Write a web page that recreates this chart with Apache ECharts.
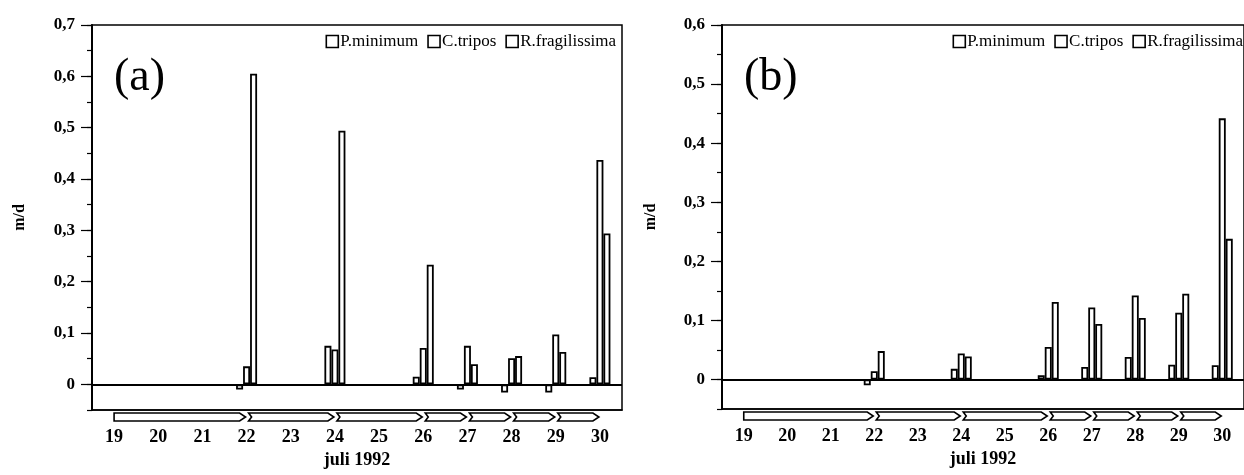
<!DOCTYPE html>
<html><head><meta charset="utf-8">
<script src="https://cdn.jsdelivr.net/npm/echarts@6/dist/echarts.min.js"></script>
<style>html,body{margin:0;padding:0;background:#fff}#c{width:1244px;height:475px}</style>
</head><body><div id="c"></div>
<script>
const categories = ['19','20','21','22','23','24','25','26','27','28','29','30'];
const seriesNames = ['P.minimum','C.tripos','R.fragilissima'];
// panel (a)
const aPmin = [null,null,null,-0.01,null,0.075,null,0.015,-0.01,-0.016,-0.016,0.014];
const aCtri = [null,null,null,0.035,null,0.068,null,0.071,0.075,0.051,0.097,0.437];
const aRfra = [null,null,null,0.605,null,0.494,null,0.233,0.039,0.055,0.063,0.294];
// panel (b)
const bPmin = [null,null,null,-0.01,null,0.018,null,0.007,0.021,0.038,0.025,0.024];
const bCtri = [null,null,null,0.014,null,0.044,null,0.055,0.122,0.142,0.113,0.442];
const bRfra = [null,null,null,0.048,null,0.039,null,0.131,0.094,0.104,0.145,0.238];
// y ticks
const yTicksA = [0,0.1,0.2,0.3,0.4,0.5,0.6,0.7];
const yTicksB = [0,0.1,0.2,0.3,0.4,0.5,0.6];
const yMinA = -0.05, yMaxA = 0.7, yMinB = -0.05, yMaxB = 0.6;
// incubation periods (arrows under x axis), in days
const periodStart = [19,22,24,26,27,28,29];
const periodEnd   = [22,24,26,27,28,29,30];

const FONT = 'Liberation Serif';
const fmt = v => Math.abs(v) < 1e-9 ? '0' : v.toFixed(1).replace('.', ',');

function yAxes(gi, min, max, ticks) {
  return [
    { type:'value', gridIndex:gi, min, max, interval:0.05,
      name:'m/d', nameLocation:'middle', nameGap: gi===0?64:63, nameRotate:90,
      nameTextStyle:{fontFamily:FONT, fontSize:16, fontWeight:'bold', color:'#000'},
      axisLine:{show:true, lineStyle:{color:'#000', width:2}},
      axisTick:{show:true, customValues:ticks, length:11, lineStyle:{color:'#000', width:1.2}},
      axisLabel:{customValues:ticks, formatter:fmt, margin:17, fontFamily:FONT, fontSize:17, fontWeight:'bold', color:'#000'},
      splitLine:{show:false} },
    { type:'value', gridIndex:gi, min, max, interval:0.05, position:'left',
      axisLine:{show:false}, axisLabel:{show:false}, splitLine:{show:false},
      axisTick:{show:true, length:5, lineStyle:{color:'#000', width:1.2}} }
  ];
}
function xAxis(gi) {
  return { type:'category', gridIndex:gi, data:categories,
    name:'juli 1992', nameLocation:'middle', nameGap:41,
    nameTextStyle:{fontFamily:FONT, fontSize:18, fontWeight:'bold', color:'#000'},
    axisLine:{show:true, onZero:false, lineStyle:{color:'#000', width:1.5}},
    axisTick:{show:false},
    axisLabel:{margin:18, fontFamily:FONT, fontSize:18, fontWeight:'bold', color:'#000', interval:0},
    splitLine:{show:false} };
}
function bars(xi, yi, arrs) {
  return arrs.map((d, k) => ({
    type:'bar', name:seriesNames[k], xAxisIndex:xi, yAxisIndex:yi, data:d,
    barWidth:7, barGap:'0%',
    itemStyle:{color:'#fff', borderColor:'#000', borderWidth:1.8},
    emphasis:{disabled:true},
    markLine: k===0 ? {silent:true, symbol:'none', label:{show:false},
      lineStyle:{color:'#000', width:1.8, type:'solid'}, data:[{yAxis:0}]} : undefined
  }));
}
function arrows(xi, yi, ymin) {
  const data = periodStart.map((s,i) => [categories.indexOf(String(s)), categories.indexOf(String(periodEnd[i])), ymin, i]);
  return { type:'custom', xAxisIndex:xi, yAxisIndex:yi, silent:true, clip:false,
    encode:{x:[0,1], y:2}, data,
    renderItem:(params, api) => {
      const a = api.coord([api.value(0), api.value(2)]);
      const b = api.coord([api.value(1), api.value(2)]);
      const x0 = a[0] + (api.value(3) === 0 ? 0 : 2), x1 = b[0] - 1;
      const y0 = a[1] + 3, y1 = a[1] + 11, ym = (y0 + y1) / 2;
      const pts = [[x0,y0],[x1-6,y0],[x1,ym],[x1-6,y1],[x0,y1]];
      if (api.value(3) !== 0) pts.push([x0+3, ym]);
      return { type:'polygon', shape:{points:pts}, style:{fill:'#fff', stroke:'#000', lineWidth:1.6} };
    } };
}
const legendStyle = { icon:'rect', itemWidth:12, itemHeight:12, itemGap:9, top:28,
  textStyle:{fontFamily:FONT, fontSize:17, color:'#000', padding:[0,0,0,-3]},
  itemStyle:{color:'#fff', borderColor:'#000', borderWidth:1.6}, selectedMode:false, data:seriesNames };

const chart = echarts.init(document.getElementById('c'), null, {renderer:'canvas'});
chart.setOption({
  animation:false,
  backgroundColor:'#fff',
  title:[
    {text:'(a)', left:109, top:50, textStyle:{fontFamily:FONT, fontSize:46, fontWeight:'normal', color:'#000'}},
    {text:'(b)', left:739, top:50, textStyle:{fontFamily:FONT, fontSize:46, fontWeight:'normal', color:'#000'}}
  ],
  legend:[ Object.assign({right:623}, legendStyle), Object.assign({right:-4}, legendStyle) ],
  grid:[
    {left:92, top:25, width:530, height:385, show:true, borderColor:'#000', borderWidth:1.5, backgroundColor:'transparent'},
    {left:722, top:25, width:524, height:384, show:true, borderColor:'#000', borderWidth:1.5, backgroundColor:'transparent'}
  ],
  xAxis:[xAxis(0), xAxis(1)],
  yAxis:[...yAxes(0, yMinA, yMaxA, yTicksA), ...yAxes(1, yMinB, yMaxB, yTicksB)],
  series:[
    ...bars(0, 0, [aPmin, aCtri, aRfra]),
    ...bars(1, 2, [bPmin, bCtri, bRfra]),
    arrows(0, 0, yMinA),
    arrows(1, 2, yMinB)
  ]
});
</script>
</body></html>
